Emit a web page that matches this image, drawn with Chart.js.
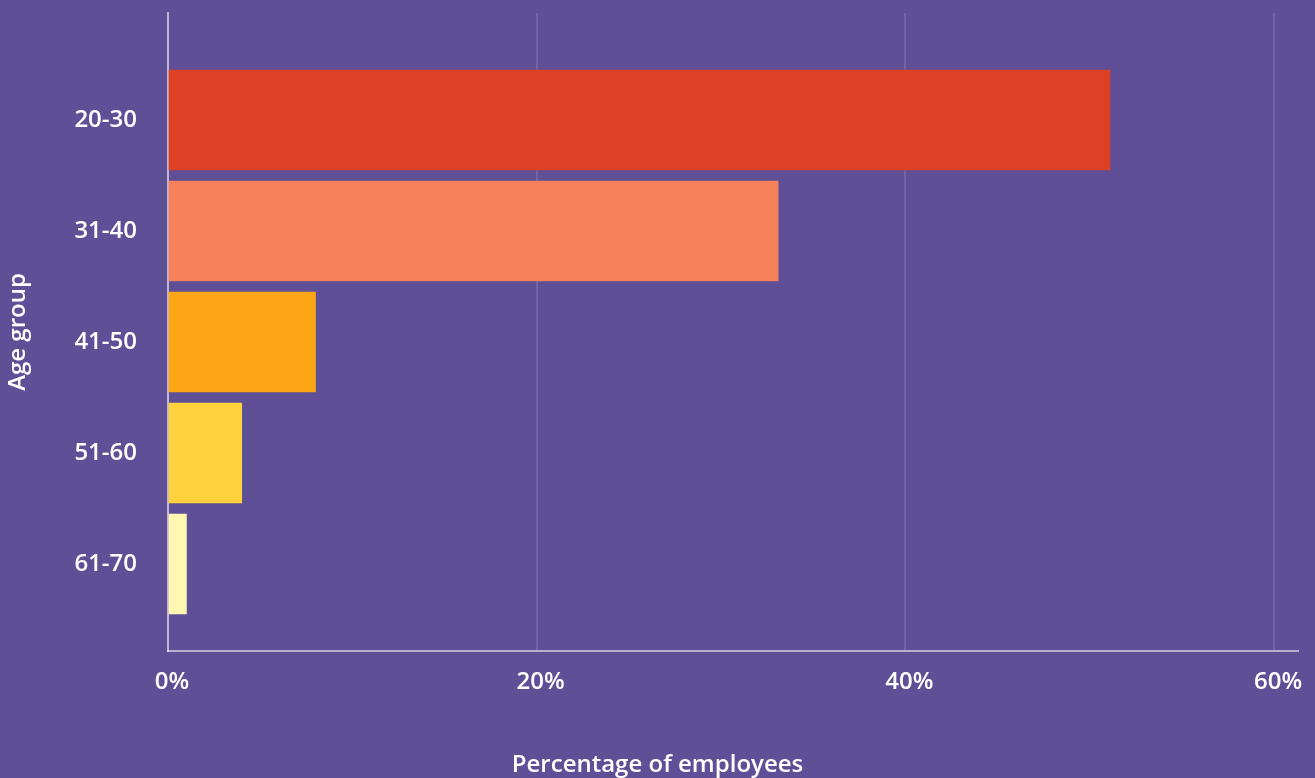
<!DOCTYPE html>
<html>
<head>
<meta charset="utf-8">
<script src="https://cdn.jsdelivr.net/npm/chart.js@4.4.1/dist/chart.umd.min.js"></script>
<style>
  html, body { margin: 0; padding: 0; background: #5E4F96; overflow: hidden; }
  #wrap { width: 1315px; height: 778px; }
</style>
</head>
<body>
<div id="wrap"><canvas id="c" width="1315" height="778"></canvas></div>
<script>
const categories = ["20-30", "31-40", "41-50", "51-60", "61-70"];
const values = [51.1, 33.1, 8.0, 4.0, 1.0];
const barColors = ["#DC4126", "#F5805A", "#FFA616", "#FFD23C", "#FFF7B1"];
const xTicks = [0, 20, 40, 60];
const xTitle = "Percentage of employees";
const yTitle = "Age group";

const FONT = "'Open Sans', 'Noto Sans', sans-serif";
Chart.defaults.font.family = FONT;
Chart.defaults.color = "#FFFFFF";

new Chart(document.getElementById('c'), {
  type: 'bar',
  data: {
    datasets: [{
      data: values.map((v, i) => ({ x: v, y: i })),
      backgroundColor: barColors,
      borderWidth: 0,
      barThickness: 100
    }]
  },
  options: {
    indexAxis: 'y',
    responsive: false,
    animation: false,
    layout: { padding: { top: 13, right: 0, bottom: -2, left: 0 } },
    plugins: {
      legend: { display: false },
      tooltip: { enabled: false },
      title: {
        display: true,
        text: xTitle,
        position: 'bottom',
        color: '#FFFFFF',
        font: { size: 24, weight: '600', family: FONT },
        padding: 0
      }
    },
    scales: {
      x: {
        type: 'linear',
        offset: false,
        min: 0,
        max: 61.3,
        afterBuildTicks: (axis) => { axis.ticks = xTicks.map(v => ({ value: v })); },
        afterFit: (axis) => { axis.height = 100.2; axis.paddingLeft = 0; axis.paddingRight = 17; },
        grid: { display: true, drawTicks: false, color: 'rgba(255,255,255,0.13)', lineWidth: 2 },
        border: { display: true, color: 'rgba(255,255,255,0.55)', width: 2 },
        ticks: {
          padding: 17,
          labelOffset: 4,
          color: '#FFFFFF',
          font: { size: 24, weight: '600', family: FONT },
          callback: (v) => v + '%'
        }
      },
      y: {
        type: 'linear',
        offset: false,
        reverse: true,
        min: -0.964,
        max: 4.784,
        afterBuildTicks: (axis) => { axis.ticks = categories.map((_, i) => ({ value: i })); },
        afterFit: (axis) => { axis.width = 168; axis.paddingTop = 0; axis.paddingBottom = 0; },
        grid: { display: false, drawTicks: false },
        border: { display: true, color: 'rgba(255,255,255,0.55)', width: 2 },
        ticks: {
          padding: 31,
          color: '#FFFFFF',
          font: { size: 24, weight: '600', family: FONT },
          callback: (v) => categories[v] !== undefined ? categories[v] : ''
        },
        title: {
          display: true,
          text: yTitle,
          color: '#FFFFFF',
          font: { size: 24, weight: '600', family: FONT },
          padding: { top: 4, bottom: 0 }
        }
      }
    }
  }
});
</script>
</body>
</html>
